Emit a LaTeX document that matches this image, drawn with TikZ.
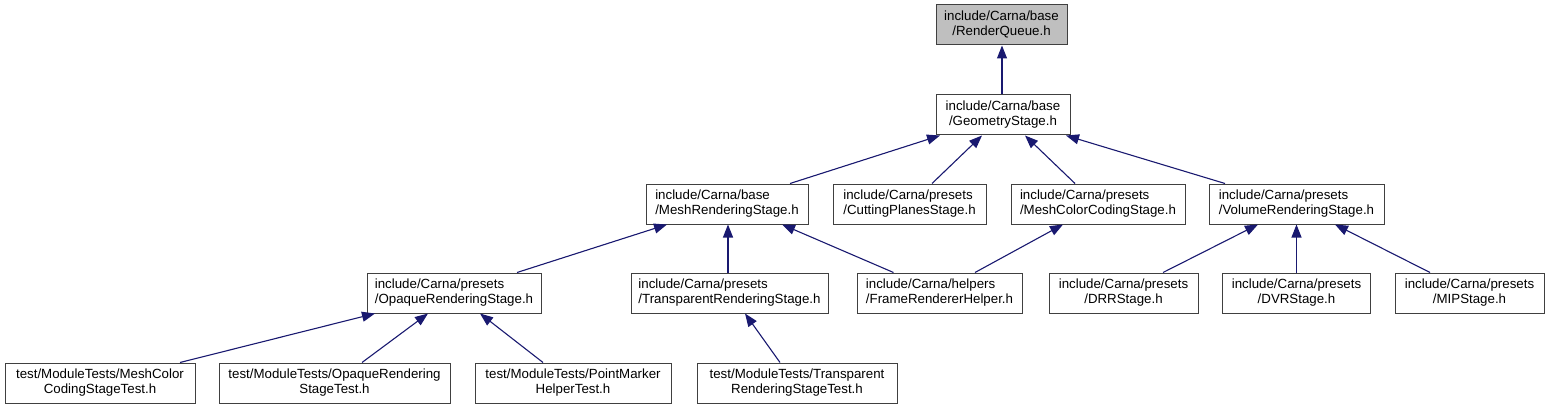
\documentclass[tikz,border=0pt]{standalone}
\usepackage{fontspec}
\setmainfont{Liberation Sans}
\usepackage{tikz}
\usetikzlibrary{arrows.meta}

\definecolor{edgeblue}{HTML}{191970}
\definecolor{boxline}{HTML}{404040}
\definecolor{rootgray}{HTML}{BFBFBF}

% first line flush left, second line centred
\newcommand{\fname}[2]{\begin{tabular}{@{}c@{}}\multicolumn{1}{@{}l@{}}{#1}\\#2\end{tabular}}

\begin{document}
\begin{tikzpicture}[
  x=1pt, y=-1pt,
  font=\fontsize{13.3}{15}\selectfont,
  file/.style={draw=boxline, line width=1pt, fill=white, minimum height=40pt, inner xsep=2pt, inner ysep=2pt},
  root/.style={file, fill=rootgray},
  dep/.style={draw=edgeblue, line width=1.1pt, -{Triangle[length=13pt, width=10pt]}},
]
\useasboundingbox (0,0) rectangle (1550,409);

\node[root, minimum width=131pt] (queue) at (1001.5,25) {\fname{include/Carna/base}{/RenderQueue.h}};
\node[file, minimum width=134pt] (geom) at (1003,115) {\fname{include/Carna/base}{/GeometryStage.h}};

\node[file, minimum width=162pt] (mesh) at (727,204) {\fname{include/Carna/base}{/MeshRenderingStage.h}};
\node[file, minimum width=153pt] (cut) at (909.5,204) {\fname{include/Carna/presets}{/CuttingPlanesStage.h}};
\node[file, minimum width=174pt] (mcc) at (1098,204) {\fname{include/Carna/presets}{/MeshColorCodingStage.h}};
\node[file, minimum width=175pt] (vol) at (1296.5,204) {\fname{include/Carna/presets}{/VolumeRenderingStage.h}};

\node[file, minimum width=174pt] (opq) at (454,293) {\fname{include/Carna/presets}{/OpaqueRenderingStage.h}};
\node[file, minimum width=197pt] (trn) at (729.5,293) {\fname{include/Carna/presets}{/TransparentRenderingStage.h}};
\node[file, minimum width=165pt] (frh) at (939.5,293) {\fname{include/Carna/helpers}{/FrameRendererHelper.h}};
\node[file, minimum width=149pt] (drr) at (1123.5,293) {\fname{include/Carna/presets}{/DRRStage.h}};
\node[file, minimum width=148pt] (dvr) at (1296.5,293) {\fname{include/Carna/presets}{/DVRStage.h}};
\node[file, minimum width=149pt] (mip) at (1469.5,293) {\fname{include/Carna/presets}{/MIPStage.h}};

\node[file, minimum width=190pt] (tmcc) at (100,383) {\fname{test/ModuleTests/MeshColor}{CodingStageTest.h}};
\node[file, minimum width=231pt] (topq) at (334.5,383) {\fname{test/ModuleTests/OpaqueRendering}{StageTest.h}};
\node[file, minimum width=196pt] (tpm) at (573,383) {\fname{test/ModuleTests/PointMarker}{HelperTest.h}};
\node[file, minimum width=200pt] (ttrn) at (797,383) {\fname{test/ModuleTests/Transparent}{RenderingStageTest.h}};

% includes
\draw[dep] ([xshift=-1pt]geom.north) -- ([xshift=0.5pt]queue.south);
\draw[dep] ([xshift=63pt]mesh.north) -- ([xshift=-63pt]geom.south);
\draw[dep] ([xshift=22.5pt]cut.north) -- ([xshift=-21pt]geom.south);
\draw[dep] ([xshift=-23pt]mcc.north) -- ([xshift=22pt]geom.south);
\draw[dep] ([xshift=-71.5pt]vol.north) -- ([xshift=63pt]geom.south);

\draw[dep] ([xshift=63pt]opq.north) -- ([xshift=-60pt]mesh.south);
\draw[dep] ([xshift=-1.5pt]trn.north) -- ([xshift=1pt]mesh.south);
\draw[dep] ([xshift=-46pt]frh.north) -- ([xshift=55pt]mesh.south);
\draw[dep] ([xshift=35.5pt]frh.north) -- ([xshift=-35pt]mcc.south);
\draw[dep] ([xshift=39.5pt]drr.north) -- ([xshift=-38.5pt]vol.south);
\draw[dep] (dvr.north) -- (vol.south);
\draw[dep] ([xshift=-39.5pt]mip.north) -- ([xshift=38.5pt]vol.south);

\draw[dep] ([xshift=80pt]tmcc.north) -- ([xshift=-79pt]opq.south);
\draw[dep] ([xshift=27.5pt]topq.north) -- ([xshift=-26pt]opq.south);
\draw[dep] ([xshift=-30pt]tpm.north) -- ([xshift=26pt]opq.south);
\draw[dep] ([xshift=-17pt]ttrn.north) -- ([xshift=15.5pt]trn.south);
\end{tikzpicture}
\end{document}
